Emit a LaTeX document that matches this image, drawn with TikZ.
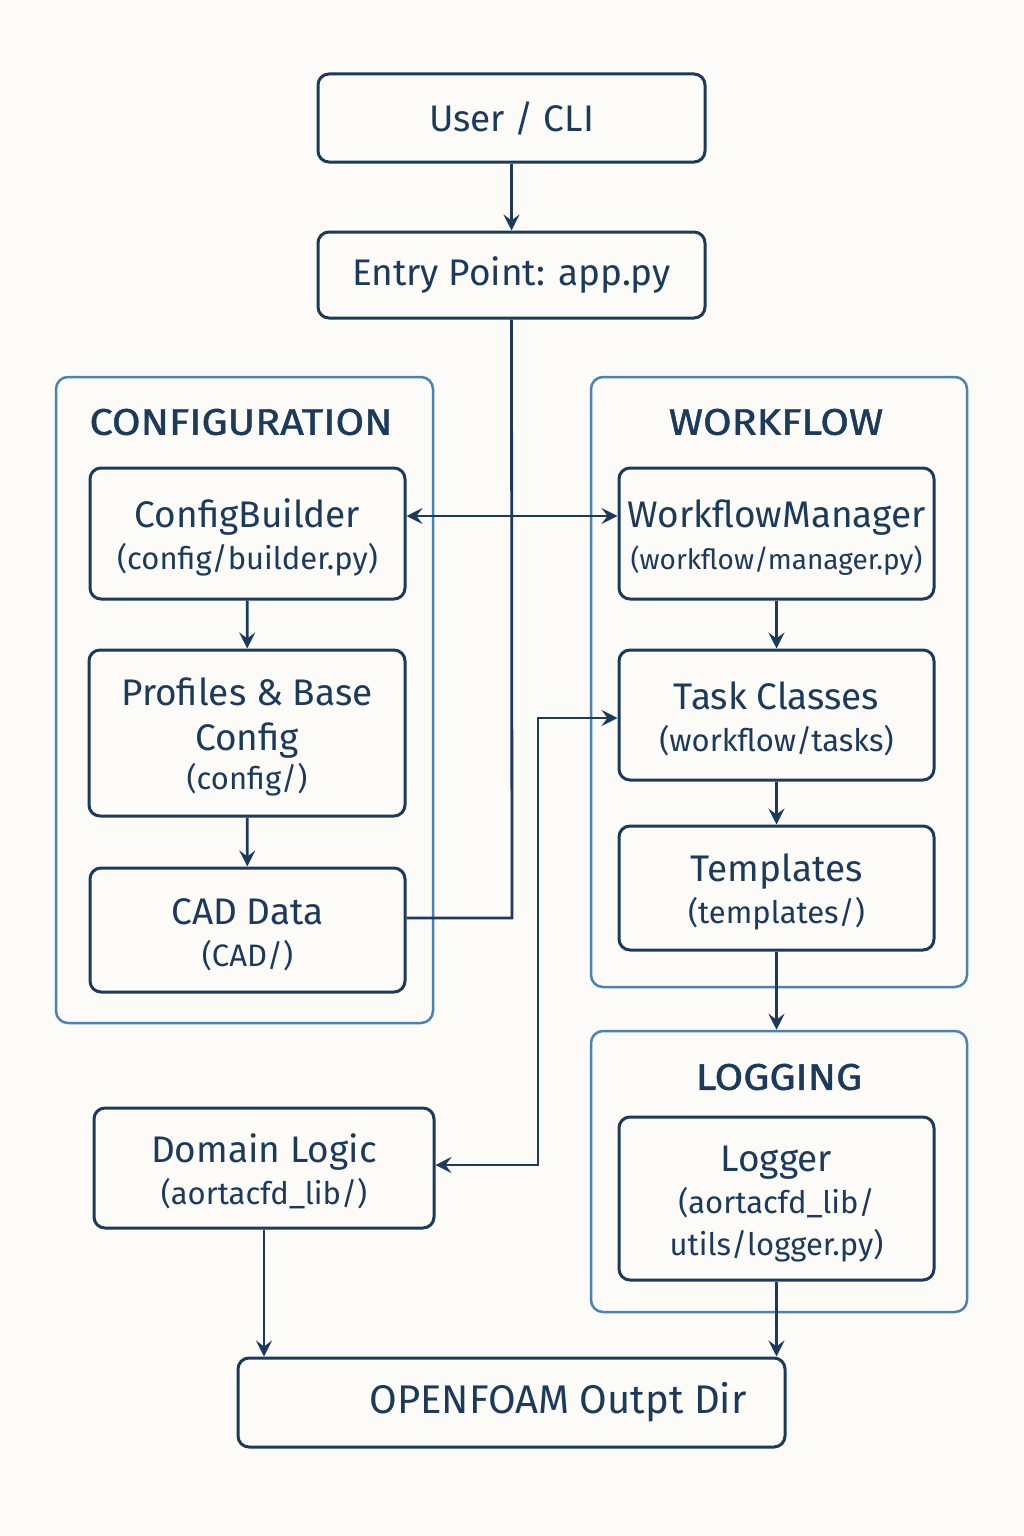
\documentclass[tikz,border=0pt]{standalone}
\usepackage{fontspec}
\setmainfont{Fira Sans}
\newfontfamily\hdrfont{Fira Sans}[FakeBold=1.3,FakeStretch=1.12]
\usetikzlibrary{arrows.meta}
\definecolor{navy}{HTML}{1B3A5C}
\definecolor{lblue}{HTML}{4B82B6}
\definecolor{bgc}{HTML}{FCFBF7}
\newcommand\mainsz{\fontsize{37}{42}\selectfont}
\newcommand\subsz{\fontsize{31}{42}\selectfont}
\newcommand\hdrsz{\hdrfont\fontsize{37}{42}\selectfont}
\newcommand\tstrut{\rule{0pt}{36pt}}
\begin{document}
\begin{tikzpicture}[x=1pt,y=-1pt,
  box/.style={draw=navy, line width=3pt, rounded corners=11pt, text=navy, align=center, inner sep=0pt, font=\mainsz},
  cont/.style={draw=lblue, line width=2.5pt, rounded corners=12pt, inner sep=0pt},
  hdr/.style={text=navy, inner sep=0pt, font=\hdrsz},
  conn/.style={draw=navy, line width=2.8pt, -{Stealth[length=16pt,width=16pt,inset=6pt]}},
  biconn/.style={draw=navy, line width=2.8pt, {Stealth[length=16pt,width=16pt,inset=6pt]}-{Stealth[length=16pt,width=16pt,inset=6pt]}},
  plain/.style={draw=navy, line width=2.8pt}
]
\fill[bgc] (0,0) rectangle (1024,1536);
\useasboundingbox (0,0) rectangle (1024,1536);

% containers
\node[cont, minimum width=377pt, minimum height=646pt] (cfgC) at (244.5,700) {};
\node[cont, minimum width=376pt, minimum height=610pt] (wfC) at (779,682) {};
\node[cont, minimum width=376pt, minimum height=281pt] (logC) at (779,1171.5) {};

\node[hdr] (cfgH) at (241,422) {CONFIGURATION};
\node[hdr] (wfH) at (776,422) {WORKFLOW};
\node[hdr] (logH) at (779,1077) {LOGGING};

% boxes
\node[box, minimum width=387pt, minimum height=88pt] (user) at (511.5,118) {User / CLI};
\node[box, minimum width=387pt, minimum height=86pt] (entry) at (511.5,275) {Entry Point: app.py};

\node[box, minimum width=315pt, minimum height=131pt] (builder) at (247.5,533.5) {\tstrut ConfigBuilder\\\subsz (config/builder.py)};
\node[box, minimum width=316pt, minimum height=166pt] (profiles) at (247,733) {\tstrut Profiles \& Base\\[3pt]Config\\[-3pt]\subsz (config/)};
\node[box, minimum width=315pt, minimum height=124pt] (cad) at (247.5,930) {\tstrut CAD Data\\\subsz (CAD/)};

\node[box, minimum width=315pt, minimum height=131pt] (manager) at (776.5,533.5) {\tstrut WorkflowManager\\\fontsize{28}{42}\selectfont (workflow/manager.py)};
\node[box, minimum width=315pt, minimum height=130pt] (tasks) at (776.5,715) {\tstrut Task Classes\\\subsz (workflow/tasks)};
\node[box, minimum width=315pt, minimum height=124pt] (templates) at (776.5,888) {\tstrut Templates\\\subsz (templates/)};

\node[box, minimum width=315pt, minimum height=163pt] (logger) at (776.5,1198.5) {\tstrut Logger\\\subsz (aortacfd\_lib/\\\subsz utils/logger.py)};
\node[box, minimum width=340pt, minimum height=120pt] (domain) at (264,1168) {\tstrut Domain Logic\\\subsz (aortacfd\_lib/)};

\node[box, minimum width=547pt, minimum height=89pt] (out) at (511.5,1402.5) {};
\node[text=navy, inner sep=0pt, font=\fontsize{40}{44}\selectfont] (outT) at (558,1402.5) {OPENFOAM Outpt Dir};

% connectors
\draw[conn] (user) -- (entry);
\coordinate (jA) at (512,918);
\draw[plain] (entry.south) -- (jA) -- ([yshift=12pt]cad.east);
\draw[biconn] ([yshift=17.5pt]builder.east) -- ([yshift=17.5pt]manager.west);
\draw[conn] (builder) -- (profiles);
\draw[conn] (profiles) -- (cad);
\draw[conn] (manager) -- (tasks);
\draw[conn] (tasks) -- (templates);
\draw[conn] (templates.south) -- (templates.south |- logC.north);
\coordinate (jB) at (538,718);
\coordinate (jC) at (538,1165);
\draw[biconn] ([yshift=3pt]domain.east) -- (jC) -- (jB) -- ([yshift=-3pt]tasks.west);
\draw[conn] (domain.south) -- (domain.south |- out.north);
\draw[conn] (logger.south) -- (logger.south |- out.north);
\end{tikzpicture}
\end{document}
